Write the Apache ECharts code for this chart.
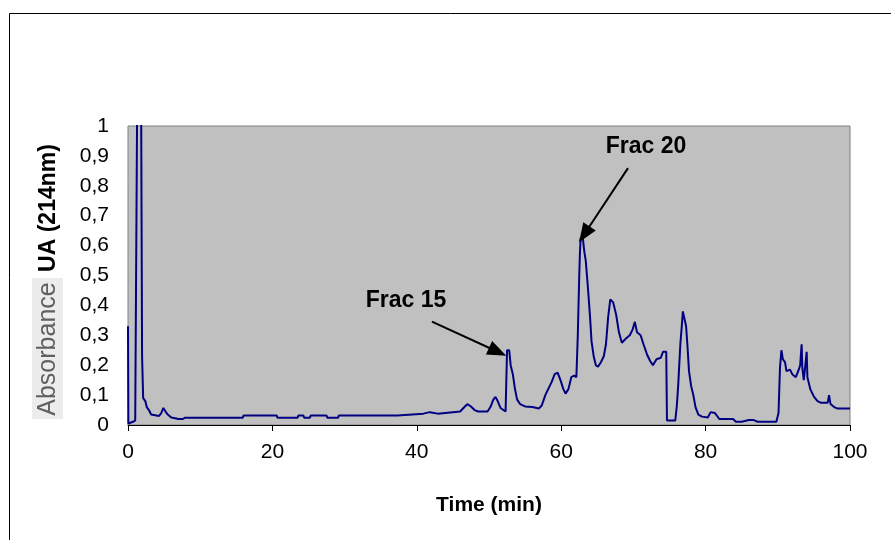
<!DOCTYPE html>
<html>
<head>
<meta charset="utf-8">
<script src="https://cdn.jsdelivr.net/npm/echarts@6/dist/echarts.min.js"></script>
<style>
html,body{margin:0;padding:0;background:#fff;}
#c{width:891px;height:540px;}
</style>
</head>
<body>
<div id="c"></div>
<script>
// ---- data ----
const times = [
  0, 0.05, 0.6, 1.0, 1.2, 1.3, 1.8, 1.95, 2.1, 2.4, 2.6, 2.9, 3.2, 4.3, 4.6, 4.9, 5.2, 5.5, 6.0, 7.0, 7.6, 7.9,
  15.9, 16.0, 20.6, 20.7, 23.5, 23.6, 24.3, 24.4, 25.2, 25.3, 27.5, 27.6, 29.1, 29.2, 37.3, 37.4, 40.9, 41.0, 41.8, 41.9, 42.9, 43.0, 45.0,
  46.0, 46.6, 47.0, 47.5, 48.0, 48.5, 49.8, 50.2, 50.6, 50.9, 51.2, 51.6, 52.0, 52.3,
  52.5, 52.8, 53.0, 53.3, 53.6, 53.9, 54.3, 55.0, 56.0, 56.9, 57.3, 57.8, 58.2, 58.7, 59.1, 59.5, 59.9, 60.3, 60.6, 61.0, 61.4, 61.8, 62.1,
  62.3, 62.5, 62.6, 62.7, 63.0, 63.2, 63.4, 63.7, 64.0, 64.2, 64.5, 64.8, 65.1, 65.5, 65.9, 66.2, 66.5, 66.8, 67.2, 67.6, 68.0, 68.4,
  69.0, 69.5, 69.9, 70.2, 70.5, 71.0, 71.4, 71.9, 72.3, 72.7, 73.2, 73.8, 74.1, 74.55, 74.65, 75.8,
  76.0, 76.2, 76.5, 76.7, 76.85, 77.1, 77.3, 77.5, 77.7, 78.0, 78.3, 78.6, 79.0, 79.5, 80.3, 80.7, 81.3, 81.6, 81.9, 83.8,
  84.2, 85.0, 85.2, 86.0, 86.2, 86.6, 87.2, 89.8, 90.1, 90.3, 90.5, 90.7, 91.0, 91.2, 91.7, 92.0, 92.5, 92.9, 93.1, 93.3, 93.4, 93.6,
  94.0, 94.1, 94.5, 95.0, 95.5, 96.0, 96.9, 97.1, 97.3, 97.8, 98.3, 100
];
const absorbance = [
  0.33, 0.005, 0.01, 0.015, 0.02, 1.2, 1.2, 0.23, 0.09, 0.08, 0.06, 0.05, 0.035, 0.03, 0.04, 0.057, 0.045, 0.035, 0.025, 0.02, 0.02, 0.0245,
  0.0245, 0.032, 0.032, 0.0245, 0.0245, 0.032, 0.032, 0.0245, 0.0245, 0.032, 0.032, 0.0245, 0.0245, 0.032, 0.032, 0.038, 0.038, 0.043, 0.043, 0.038, 0.038, 0.043, 0.043,
  0.045, 0.06, 0.07, 0.062, 0.05, 0.045, 0.045, 0.06, 0.085, 0.094, 0.08, 0.057, 0.05, 0.045,
  0.25, 0.25, 0.2, 0.17, 0.12, 0.085, 0.07, 0.062, 0.06, 0.055, 0.065, 0.10, 0.12, 0.145, 0.17, 0.175, 0.15, 0.12, 0.105, 0.12, 0.16, 0.165, 0.16,
  0.30, 0.50, 0.58, 0.625, 0.625, 0.58, 0.55, 0.46, 0.36, 0.28, 0.23, 0.20, 0.195, 0.21, 0.23, 0.27, 0.36, 0.42, 0.41, 0.37, 0.31, 0.275,
  0.29, 0.30, 0.32, 0.345, 0.31, 0.30, 0.27, 0.235, 0.215, 0.20, 0.22, 0.225, 0.245, 0.245, 0.015, 0.015,
  0.06, 0.13, 0.27, 0.33, 0.38, 0.38, 0.33, 0.26, 0.18, 0.13, 0.10, 0.06, 0.035, 0.028, 0.025, 0.043, 0.04, 0.03, 0.02, 0.02,
  0.011, 0.011, 0.017, 0.017, 0.011, 0.017, 0.011, 0.011, 0.04, 0.19, 0.25, 0.22, 0.21, 0.18, 0.185, 0.17, 0.16, 0.185, 0.2, 0.27, 0.19, 0.15,
  0.245, 0.16, 0.12, 0.095, 0.08, 0.074, 0.074, 0.10, 0.07, 0.06, 0.055, 0.055
];
const xTickLabels = ['0', '20', '40', '60', '80', '100'];
const yTickLabels = ['0', '0,1', '0,2', '0,3', '0,4', '0,5', '0,6', '0,7', '0,8', '0,9', '1'];
const xTitle = 'Time (min)';
const yTitleBold = 'UA (214nm)';
const yTitlePlain = 'Absorbance';
// annotations: label text, label position, arrow start, arrow tip (data coords)
const annLabels = ['Frac 15', 'Frac 20'];
const annLabelPos = [[38.5, 0.416], [71.75, 0.93]];
const annArrowFrom = [[42.1, 0.346], [69.25, 0.859]];
const annArrowTo = [[51.2, 0.245], [63.2, 0.638]];

const seriesData = times.map((t, i) => [t, absorbance[i]]);
const FONT = '"Liberation Sans", Arial, sans-serif';

const chart = echarts.init(document.getElementById('c'), null, {renderer: 'canvas'});
chart.setOption({
  animation: false,
  backgroundColor: '#ffffff',
  grid: {
    left: 128, top: 126, width: 722, height: 299,
    show: true, backgroundColor: '#C0C0C0', borderColor: '#808080', borderWidth: 1
  },
  xAxis: {
    type: 'value', min: 0, max: 100, interval: 20,
    axisLine: {show: true, onZero: false, lineStyle: {color: '#000', width: 1}},
    axisTick: {show: true, inside: false, length: 6, lineStyle: {color: '#000'}},
    splitLine: {show: false},
    axisLabel: {
      margin: 17, color: '#000', fontFamily: FONT, fontSize: 21,
      formatter: v => xTickLabels[Math.round(v / 20)]
    },
    name: xTitle, nameLocation: 'middle', nameGap: 70,
    nameTextStyle: {color: '#000', fontFamily: FONT, fontSize: 21, fontWeight: 'bold'}
  },
  yAxis: {
    type: 'value', min: 0, max: 1, interval: 0.1,
    axisLine: {show: false},
    axisTick: {show: false},
    splitLine: {show: false},
    axisLabel: {
      margin: 19, color: '#000', fontFamily: FONT, fontSize: 21,
      formatter: v => yTickLabels[Math.round(v * 10)]
    }
  },
  series: [{
    type: 'line',
    data: seriesData,
    showSymbol: false,
    symbol: 'none',
    clip: true,
    lineStyle: {color: '#000080', width: 2},
    markLine: {
      silent: true,
      symbol: ['none', 'triangle'],
      symbolSize: [15, 19],
      label: {show: false},
      lineStyle: {color: '#000', width: 2, type: 'solid'},
      data: annArrowFrom.map((p, i) => [{coord: p}, {coord: annArrowTo[i]}])
    },
    markPoint: {
      silent: true,
      symbol: 'circle', symbolSize: 0,
      data: annLabels.map((txt, i) => ({
        coord: annLabelPos[i],
        label: {
          show: true, position: 'inside', formatter: txt,
          color: '#000', fontFamily: FONT, fontSize: 23, fontWeight: 'bold'
        }
      }))
    }
  }],
  graphic: [
    {type: 'rect', silent: true, z: -1,
     shape: {x: 9.5, y: 13.5, width: 900, height: 600},
     style: {fill: 'none', stroke: '#000', lineWidth: 1}},
    {type: 'rect', silent: true,
     shape: {x: 32, y: 278, width: 31, height: 141},
     style: {fill: '#ececec'}},
    {type: 'text', silent: true, x: 48, y: 349, rotation: Math.PI / 2,
     style: {text: yTitlePlain, fill: '#606060', font: '25px ' + FONT, align: 'center', verticalAlign: 'middle'}},
    {type: 'text', silent: true, x: 49, y: 208, rotation: Math.PI / 2,
     style: {text: yTitleBold, fill: '#000', font: 'bold 23px ' + FONT, align: 'center', verticalAlign: 'middle'}}
  ]
});
</script>
</body>
</html>
